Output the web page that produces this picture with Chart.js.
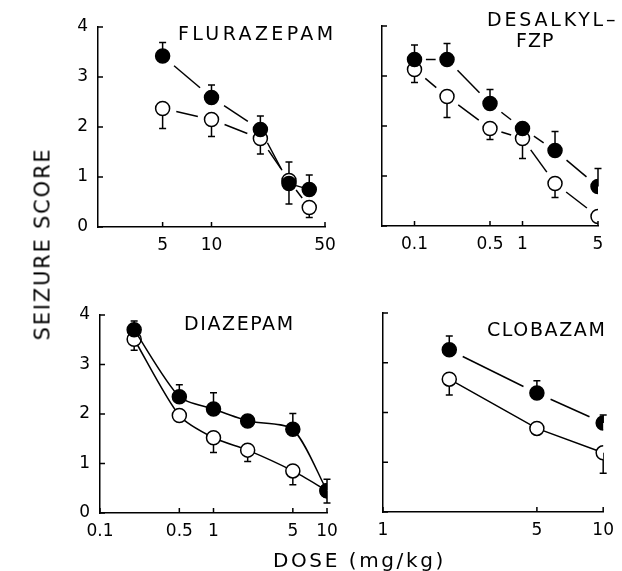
<!DOCTYPE html>
<html>
<head>
<meta charset="utf-8">
<script src="https://cdn.jsdelivr.net/npm/chart.js@4/dist/chart.umd.min.js"></script>
<style>
  body { margin: 0; background: #fff; }
  #wrap { position: relative; width: 622px; height: 571px; font-family: "DejaVu Sans", sans-serif; color: #000; }
  #wrap canvas { position: absolute; left: 0; top: 0; }
  .lbl { position: absolute; white-space: nowrap; line-height: 1; }
</style>
</head>
<body>
<div id="wrap">
  <canvas id="flura" width="622" height="571"></canvas>
  <canvas id="desal" width="622" height="571"></canvas>
  <canvas id="diaz" width="622" height="571"></canvas>
  <canvas id="clob" width="622" height="571"></canvas>
  <div class="lbl" style="left:43px;top:244px;font-size:21px;letter-spacing:1.8px;transform:translate(-50%,-50%) rotate(-90deg);">SEIZURE SCORE</div>
  <div class="lbl" style="left:273px;top:550px;font-size:20px;letter-spacing:2.6px;">DOSE (mg/kg)</div>
</div>
<script>
// seizure score 0-4, filled = one group, open = the other
const scoreTicks = [0, 1, 2, 3, 4];

const fluraDose = [5, 10, 20, 30, 40];
const fluraFilled = [3.42, 2.59, 1.95, 0.87, 0.75];
const fluraFilledErr = [0.27, 0.25, 0.27, -0.41, 0.29];
const fluraOpen = [2.37, 2.15, 1.77, 0.93, 0.39];
const fluraOpenErr = [-0.40, -0.34, -0.31, 0.37, -0.20];
const fluraTicks = [5, 10, 50];

const desDose = [0.1, 0.2, 0.5, 1, 2, 5];
const desFilled = [3.33, 3.33, 2.45, 1.95, 1.51, 0.79];
const desFilledErr = [0.29, 0.32, 0.28, 0, 0.38, 0.36];
const desOpen = [3.13, 2.59, 1.95, 1.75, 0.85, 0.19];
const desOpenErr = [-0.26, -0.42, -0.22, -0.40, -0.28, 0];
const desTicks = [0.1, 0.5, 1, 5];

const diaDose = [0.2, 0.5, 1, 2, 5, 10];
const diaFilled = [3.70, 2.35, 2.10, 1.86, 1.69, 0.45];
const diaFilledErr = [0.18, 0.24, 0.33, 0, 0.32, 0.23];
const diaOpen = [3.51, 1.97, 1.52, 1.27, 0.85, 0.45];
const diaOpenErr = [-0.22, 0, -0.30, -0.23, -0.28, -0.25];
const diaTicks = [0.1, 0.5, 1, 5, 10];

const cloDose = [2, 5, 10];
const cloFilled = [3.26, 2.39, 1.79];
const cloFilledErr = [0.28, 0.25, 0.16];
const cloOpen = [2.67, 1.68, 1.19];
const cloOpenErr = [-0.32, 0, -0.41];
const cloTicks = [1, 5, 10];

const FONT = '"DejaVu Sans", sans-serif';

// connecting lines that stop short of the markers, plus one-sided error bars
const marks = {
  id: 'marks',
  beforeDatasetsDraw(chart) {
    const { ctx, scales: { y } } = chart;
    ctx.save();
    ctx.strokeStyle = '#000';
    ctx.lineWidth = 1.5;
    chart.data.datasets.forEach((ds, i) => {
      const pts = chart.getDatasetMeta(i).data;
      if (ds.gap) {
        for (let j = 1; j < pts.length; j++) {
          const a = pts[j - 1], b = pts[j];
          const dx = b.x - a.x, dy = b.y - a.y, len = Math.hypot(dx, dy);
          const g = Math.min(ds.gap, len * 0.35);
          const ux = dx / len, uy = dy / len;
          ctx.beginPath();
          ctx.moveTo(a.x + ux * g, a.y + uy * g);
          ctx.lineTo(b.x - ux * g, b.y - uy * g);
          ctx.stroke();
        }
      }
      ds.err.forEach((e, j) => {
        if (!e) return;
        const p = pts[j];
        const ye = y.getPixelForValue(ds.data[j].y + e);
        ctx.beginPath();
        ctx.moveTo(p.x, p.y);
        ctx.lineTo(p.x, ye);
        ctx.moveTo(p.x - 3.5, ye);
        ctx.lineTo(p.x + 3.5, ye);
        ctx.stroke();
      });
    });
    ctx.restore();
  }
};

// short tick marks pointing into the plot
const inTicks = {
  id: 'inTicks',
  afterDraw(chart) {
    const { ctx, chartArea: a, scales: { x, y } } = chart;
    ctx.save();
    ctx.strokeStyle = '#000';
    ctx.lineWidth = 1.5;
    ctx.beginPath();
    x.ticks.forEach(t => {
      const px = x.getPixelForValue(t.value);
      ctx.moveTo(px, a.bottom);
      ctx.lineTo(px, a.bottom - 5);
    });
    y.ticks.forEach(t => {
      const py = y.getPixelForValue(t.value);
      ctx.moveTo(a.left, py);
      ctx.lineTo(a.left + 5, py);
    });
    ctx.stroke();
    ctx.restore();
  }
};

const panelTitle = {
  id: 'panelTitle',
  afterDraw(chart, args, opts) {
    const { ctx } = chart;
    ctx.save();
    ctx.fillStyle = '#000';
    ctx.font = '19px ' + FONT;
    ctx.textBaseline = 'alphabetic';
    ctx.textAlign = 'left';
    opts.lines.forEach(l => {
      ctx.letterSpacing = l.sp + 'px';
      ctx.fillText(l.text, l.x, l.y);
    });
    ctx.restore();
  }
};

function pts(dose, vals) {
  return dose.map((d, i) => ({ x: d, y: vals[i] }));
}

function makePanel(id, p) {
  const yw = p.showY ? 40 : 0;
  const xh = 35;
  const tickFont = { family: FONT, size: 17 };
  new Chart(document.getElementById(id), {
    type: 'scatter',
    data: {
      datasets: [
        {
          data: pts(p.dose, p.filled), err: p.filledErr, gap: p.gapFilled,
          showLine: !p.gapFilled, tension: p.tension || 0,
          borderColor: '#000', borderWidth: 1.5,
          pointRadius: 7, pointBackgroundColor: '#000', pointBorderColor: '#000', pointBorderWidth: 1.5
        },
        {
          data: pts(p.dose, p.open), err: p.openErr, gap: p.gapOpen,
          showLine: !p.gapOpen, tension: p.tension || 0,
          borderColor: '#000', borderWidth: 1.5,
          pointRadius: 7, pointBackgroundColor: '#fff', pointBorderColor: '#000', pointBorderWidth: 1.5
        }
      ]
    },
    options: {
      responsive: false,
      animation: false,
      layout: {
        padding: { left: p.area.l - yw, right: 622 - p.area.r, top: p.area.t, bottom: 571 - p.area.b - xh }
      },
      plugins: {
        legend: { display: false },
        tooltip: { enabled: false },
        panelTitle: { lines: p.title }
      },
      scales: {
        x: {
          type: 'logarithmic', min: p.xmin, max: p.xmax,
          afterBuildTicks: s => { s.ticks = p.ticks.map(v => ({ value: v })); },
          afterFit: s => { s.height = xh; },
          ticks: { callback: v => String(v), autoSkip: false, maxRotation: 0, color: '#000', font: tickFont, padding: 8 },
          grid: { display: false, drawTicks: false },
          border: { display: true, color: '#000', width: 1.5 }
        },
        y: {
          min: 0, max: 4,
          afterBuildTicks: s => { s.ticks = scoreTicks.map(v => ({ value: v })); },
          afterFit: s => { s.width = yw; },
          ticks: { display: p.showY, color: '#000', font: tickFont, padding: 10 },
          grid: { display: false, drawTicks: false },
          border: { display: true, color: '#000', width: 1.5 }
        }
      }
    },
    plugins: [marks, inTicks, panelTitle]
  });
}

makePanel('flura', {
  area: { l: 98, r: 325, t: 27, b: 227 }, xmin: 2, xmax: 50, ticks: fluraTicks, showY: true,
  dose: fluraDose, filled: fluraFilled, filledErr: fluraFilledErr, open: fluraOpen, openErr: fluraOpenErr,
  gapFilled: 15, gapOpen: 14,
  title: [{ text: 'FLURAZEPAM', x: 178, y: 40, sp: 3.4 }]
});

makePanel('desal', {
  area: { l: 382, r: 598, t: 26, b: 226 }, xmin: 0.05, xmax: 5, ticks: desTicks, showY: false,
  dose: desDose, filled: desFilled, filledErr: desFilledErr, open: desOpen, openErr: desOpenErr,
  gapFilled: 15, gapOpen: 14,
  title: [{ text: 'DESALKYL\u2013', x: 487, y: 26, sp: 2.8 }, { text: 'FZP', x: 516, y: 47, sp: 1 }]
});

makePanel('diaz', {
  area: { l: 100, r: 327, t: 315, b: 513 }, xmin: 0.1, xmax: 10, ticks: diaTicks, showY: true,
  dose: diaDose, filled: diaFilled, filledErr: diaFilledErr, open: diaOpen, openErr: diaOpenErr,
  gapFilled: 0, gapOpen: 0, tension: 0.25,
  title: [{ text: 'DIAZEPAM', x: 184, y: 330, sp: 1.6 }]
});

makePanel('clob', {
  area: { l: 383, r: 609, t: 313, b: 512 }, xmin: 1, xmax: 10, ticks: cloTicks, showY: false,
  dose: cloDose, filled: cloFilled, filledErr: cloFilledErr, open: cloOpen, openErr: cloOpenErr,
  gapFilled: 15, gapOpen: 0,
  title: [{ text: 'CLOBAZAM', x: 487, y: 336, sp: 1.6 }]
});
</script>
</body>
</html>
